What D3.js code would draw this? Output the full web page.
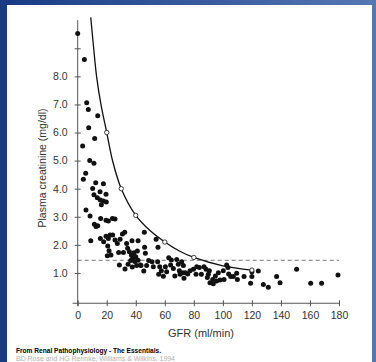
<!DOCTYPE html>
<html>
<head>
<meta charset="utf-8">
<script src="https://cdn.jsdelivr.net/npm/d3@7"></script>
<style>
  body { margin: 0; background: #fff; }
  svg { display: block; }
  text { font-family: "Liberation Sans", Arial, sans-serif; }
</style>
</head>
<body>
<div id="chart"></div>
<script>
// axis ticks
const xTicks = [0, 20, 40, 60, 80, 100, 120, 140, 160, 180];
const yTicks = [1, 2, 3, 4, 5, 6, 7, 8, 9];
const yTickLabels = ["1.0", "2.0", "3.0", "4.0", "5.0", "6.0", "7.0", "8.0", ""];

// scatter (GFR ml/min, plasma creatinine mg/dl)
const gfr = [0, 4.6, 6.2, 7.3, 13.8, 7.6, 11.7, 3.4, 8.3, 11.2, 5.5, 3.9, 12.4, 17.7, 10.3, 15.4,
  19.5, 11.2, 13.5, 15.6, 17.7, 19.7, 16.3, 5.7, 8.5, 15.8, 19.5, 21.1, 23.9, 25.7, 11.5, 12.6,
  13.8, 9, 15.6, 17.9, 19.5, 21.1, 22.3, 24.1, 20.7, 21.6, 20.4, 22.9, 25.7, 27.3, 29.2, 30.8,
  32.4, 28.2, 31.5, 28.7, 33.7, 34.4, 37.4, 41.6, 35.6, 37, 38.8, 37.9, 40, 41.1, 36.5, 39.3,
  41.6, 32.6, 34.7, 37.6, 40.6, 43.2, 46.1, 46.6, 45.9, 43.6, 45.5, 47.5, 48.9, 51.2, 52.1, 54,
  55.3, 55.1, 56.5, 55.8, 57.6, 59, 60.4, 61.3, 62.7, 64, 64.5, 65.9, 66.9, 68.2, 69.3, 70,
  71.6, 72.8, 70.5, 72.3, 74.2, 75.8, 73.2, 77.4, 79.7, 82, 83.8, 81.5, 85.2, 87, 88.4, 90,
  90.7, 89.3, 91.1, 93, 93.4, 94.8, 95.7, 96.9, 98, 100.3, 100.8, 102.6, 103.5, 104, 105.4, 107.2,
  109.5, 110, 114.6, 119.1, 120, 120, 124.4, 127.9, 131.3, 137, 139.4, 150.8, 160.5, 168, 179.3];
const creat = [9.53, 8.6, 7.06, 6.82, 6.6, 6.17, 5.79, 5.52, 5.0, 4.91, 4.55, 4.34, 4.21, 4.18, 4.01, 3.89,
  3.8, 3.78, 3.68, 3.6, 3.56, 3.53, 3.43, 3.24, 3.03, 2.94, 2.88, 2.85, 2.94, 2.92, 2.73, 2.65,
  2.68, 2.15, 2.23, 2.11, 2.31, 2.23, 2.35, 2.35, 1.96, 1.79, 1.61, 1.64, 2.17, 2.05, 2.2, 2.39,
  2.45, 1.73, 1.73, 1.28, 2.05, 1.88, 2.15, 2.15, 1.75, 1.63, 1.72, 1.51, 1.58, 1.78, 1.44, 1.41,
  1.45, 1.14, 1.31, 1.21, 1.26, 1.28, 1.91, 1.7, 2.45, 1.26, 1.07, 1.26, 1.44, 1.4, 1.22, 2.2,
  1.91, 1.4, 1.22, 0.95, 1.08, 0.88, 1.22, 1.04, 1.54, 1.28, 1.46, 1.16, 0.89, 1.48, 1.31, 1.08,
  1.4, 1.26, 0.95, 1.01, 1.01, 0.96, 0.81, 1.08, 1.13, 1.22, 1.19, 0.95, 0.95, 1.22, 1.13, 0.95,
  1.08, 0.84, 0.65, 0.77, 0.61, 0.89, 0.71, 1.01, 0.75, 1.08, 0.77, 1.28, 1.19, 0.96, 0.87, 0.87,
  0.99, 0.77, 0.87, 0.63, 0.87, 1.04, 1.07, 0.59, 0.49, 0.87, 0.65, 1.13, 0.63, 0.63, 0.93];

// theoretical curve
const curveGfr = [9, 11, 13, 16, 20, 24, 30, 40, 50, 60, 70, 80, 100, 120];
const curveCr = [10.1, 9, 8, 7, 6, 5, 4, 3.05, 2.5, 2.1, 1.78, 1.55, 1.25, 1.1];
// open circles on the curve
const markGfr = [20, 30, 40, 60, 80, 120];
const markCr = [6.0, 4.0, 3.05, 2.1, 1.55, 1.1];

const normalLimit = 1.45;

const W = 376, H = 362;
const svg = d3.select("#chart").append("svg").attr("width", W).attr("height", H);

// blue frame
const grad = svg.append("defs").append("linearGradient").attr("id", "frame")
  .attr("x1", 0).attr("y1", 0).attr("x2", 1).attr("y2", 0);
grad.append("stop").attr("offset", "0%").attr("stop-color", "#183a84");
grad.append("stop").attr("offset", "100%").attr("stop-color", "#5577b4");
svg.append("rect").attr("width", W).attr("height", H).attr("fill", "url(#frame)");
svg.append("rect").attr("x", 7).attr("y", 5).attr("width", 365).attr("height", H - 5).attr("fill", "#fff");

const x = d3.scaleLinear().domain([0, 180]).range([77.7, 339]);
const y = d3.scaleLinear().domain([0, 10]).range([301, 20.2]);
const axisColor = "#555";
const textColor = "#333";

// y axis
const gy = svg.append("g").attr("transform", "translate(" + x(0) + ",0)")
  .call(d3.axisLeft(y).tickValues(yTicks).tickFormat((d, i) => yTickLabels[i]).tickSize(3).tickPadding(7));
gy.select(".domain").remove();
gy.selectAll(".tick line").attr("x1", 3).attr("x2", -3).attr("stroke", axisColor);
gy.selectAll(".tick text").attr("fill", textColor).style("font-size", "10.5px");
gy.append("line").attr("x1", 0).attr("x2", 0).attr("y1", y(10)).attr("y2", y(-0.18))
  .attr("stroke", axisColor);

// x axis
const gx = svg.append("g").attr("transform", "translate(0," + y(-0.08) + ")")
  .call(d3.axisBottom(x).tickValues(xTicks).tickSize(3).tickPadding(5));
gx.select(".domain").remove();
gx.selectAll(".tick line").attr("y1", -3).attr("y2", 3).attr("stroke", axisColor);
gx.selectAll(".tick text").attr("fill", textColor).style("font-size", "10.5px");
gx.append("line").attr("x1", x(-3.5)).attr("x2", x(180)).attr("y1", 0).attr("y2", 0)
  .attr("stroke", axisColor);

// axis titles
svg.append("text").attr("x", 201).attr("y", 337).attr("text-anchor", "middle")
  .attr("fill", textColor).style("font-size", "11px").text("GFR (ml/min)");
svg.append("text").attr("transform", "translate(46,168) rotate(-90)").attr("text-anchor", "middle")
  .attr("fill", textColor).style("font-size", "10.5px").text("Plasma creatinine (mg/dl)");

// upper limit of normal
svg.append("line").attr("x1", x(0)).attr("x2", x(180))
  .attr("y1", y(normalLimit)).attr("y2", y(normalLimit))
  .attr("stroke", "#777").attr("stroke-dasharray", "4,3");

// scatter
svg.append("g").selectAll("circle").data(d3.range(gfr.length)).join("circle")
  .attr("cx", i => x(gfr[i])).attr("cy", i => y(creat[i])).attr("r", 2.5).attr("fill", "#111");

// curve
svg.append("path").datum(d3.range(curveGfr.length))
  .attr("fill", "none").attr("stroke", "#111").attr("stroke-width", 1.3)
  .attr("d", d3.line().x(i => x(curveGfr[i])).y(i => y(curveCr[i])).curve(d3.curveCatmullRom));
svg.append("g").selectAll("circle").data(d3.range(markGfr.length)).join("circle")
  .attr("cx", i => x(markGfr[i])).attr("cy", i => y(markCr[i])).attr("r", 2.2)
  .attr("fill", "#fff").attr("stroke", "#111").attr("stroke-width", 0.8);

// source
svg.append("text").attr("x", 16).attr("y", 353).attr("fill", "#000")
  .attr("textLength", 145).attr("lengthAdjust", "spacingAndGlyphs")
  .style("font-size", "8px").style("font-weight", "bold")
  .text("From Renal Pathophysiology - The Essentials.");
svg.append("text").attr("x", 16).attr("y", 360.5).attr("fill", "#b0b0b0")
  .attr("textLength", 159).attr("lengthAdjust", "spacingAndGlyphs")
  .style("font-size", "6.5px")
  .text("BD Rose and HG Rennke, Williams & Wilkins, 1994");
</script>
</body>
</html>
